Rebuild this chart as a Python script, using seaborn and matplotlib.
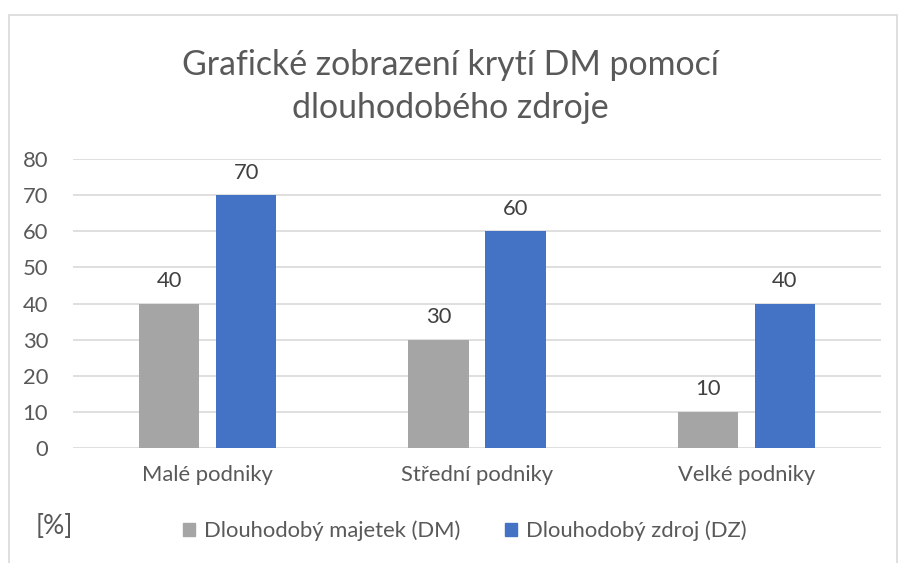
import matplotlib
matplotlib.use("Agg")
import matplotlib.pyplot as plt
from matplotlib.patches import Rectangle
import seaborn as sns
import pandas as pd

categories = ["Malé podniky", "Střední podniky", "Velké podniky"]
series_names = ["Dlouhodobý majetek (DM)", "Dlouhodobý zdroj (DZ)"]
dm_values = [40, 30, 10]
dz_values = [70, 60, 40]
colors = ["#A5A5A5", "#4472C4"]

df = pd.DataFrame({
    "kategorie": categories * 2,
    "rada": [series_names[0]] * 3 + [series_names[1]] * 3,
    "hodnota": dm_values + dz_values,
})

sns.set_theme(style="white")
plt.rcParams["font.family"] = ["Lato", "DejaVu Sans"]

W, H = 898, 563
fig = plt.figure(figsize=(W / 100, H / 100), dpi=100)
ax = fig.add_axes([73 / W, 1 - 448 / H, (881 - 73) / W, (448 - 159) / H])

sns.barplot(data=df, x="kategorie", y="hodnota", hue="rada",
            palette=colors, width=0.572, gap=0.22, ax=ax,
            saturation=1, errorbar=None, linewidth=0)

ax.set_ylim(0, 80)
ax.set_yticks(range(0, 81, 10))
ax.set_xlim(-0.5, 2.5)
ax.yaxis.grid(True, color="#D9D9D9", linewidth=1.2)
ax.set_axisbelow(True)
for s in ax.spines.values():
    s.set_visible(False)
ax.tick_params(axis="both", length=0, colors="#595959", labelsize=15.8)
ax.tick_params(axis="y", pad=18)
ax.tick_params(axis="x", pad=12)
ax.set_xlabel("")
ax.set_ylabel("")

for cont in ax.containers:
    ax.bar_label(cont, labels=[f"{v:.0f}" for v in cont.datavalues],
                 padding=9, fontsize=15.8, color="#404040")

ax.get_legend().remove()
handles = [Rectangle((0, 0), 1, 1, color=c) for c in colors]
fig.legend(handles, series_names, loc="center", bbox_to_anchor=(465 / W, 1 - 531 / H),
           ncol=2, frameon=False, fontsize=15.8, handlelength=0.55, handleheight=0.55,
           handletextpad=0.4, columnspacing=2.05, labelcolor="#595959")

fig.text(54 / W, 1 - 527 / H, "[%]", ha="center", va="center", fontsize=19, color="#595959")

fig.text(450 / W, 1 - 65 / H, "Grafické zobrazení krytí DM pomocí", ha="center", va="center",
         fontsize=24.4, color="#595959")
fig.text(450 / W, 1 - 108 / H, "dlouhodobého zdroje", ha="center", va="center",
         fontsize=24.4, color="#595959")

fig.patches.append(Rectangle((9 / W, -0.1), (897 - 9) / W, (563 - 15) / H + 0.1,
                             transform=fig.transFigure, fill=False,
                             edgecolor="#D9D9D9", linewidth=1.2))

fig.savefig("out.png", dpi=100)
